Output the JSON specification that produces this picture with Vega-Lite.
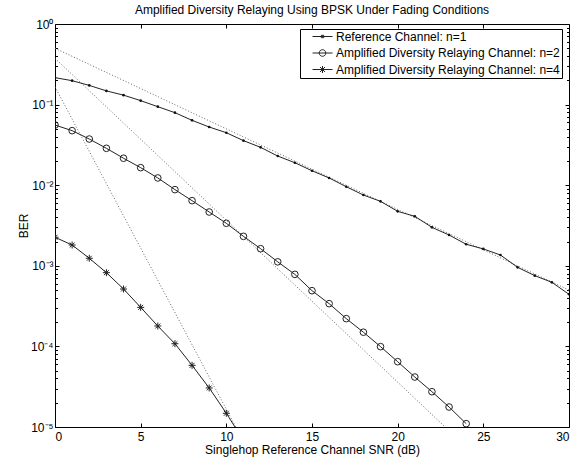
{
  "$schema": "https://vega.github.io/schema/vega-lite/v6.json",
  "width": 514,
  "height": 403,
  "autosize": {"type": "none"},
  "padding": {"left": 55, "top": 24, "right": 18, "bottom": 38},
  "background": "white",
  "title": {"text": "Amplified Diversity Relaying Using BPSK Under Fading Conditions", "font": "Liberation Sans", "fontSize": 12, "fontWeight": "normal", "color": "black", "anchor": "middle", "offset": 1},
  "config": {
    "view": {"stroke": "black", "strokeWidth": 1},
    "axis": {"grid": false, "domainColor": "black", "tickColor": "black", "labelColor": "black", "labelFont": "Liberation Sans", "labelFontSize": 12, "titleFont": "Liberation Sans", "titleFontSize": 12, "titleFontWeight": "normal", "titleColor": "black"}
  },
  "datasets": {
    "asym": [
      {"line": "d1", "snr": 0, "ber": 0.5}, {"line": "d1", "snr": 30, "ber": 0.0005},
      {"line": "d2", "snr": 0, "ber": 0.375}, {"line": "d2", "snr": 22.77, "ber": 0.00001},
      {"line": "d4", "snr": 0, "ber": 0.166}, {"line": "d4", "snr": 10.55, "ber": 0.00001}
    ],
    "sim": [
      {"series": "Reference Channel: n=1", "snr": 0, "ber": 0.216},
      {"series": "Reference Channel: n=1", "snr": 1, "ber": 0.198},
      {"series": "Reference Channel: n=1", "snr": 2, "ber": 0.173},
      {"series": "Reference Channel: n=1", "snr": 3, "ber": 0.148},
      {"series": "Reference Channel: n=1", "snr": 4, "ber": 0.131},
      {"series": "Reference Channel: n=1", "snr": 5, "ber": 0.112},
      {"series": "Reference Channel: n=1", "snr": 6, "ber": 0.0942},
      {"series": "Reference Channel: n=1", "snr": 7, "ber": 0.0794},
      {"series": "Reference Channel: n=1", "snr": 8, "ber": 0.0638},
      {"series": "Reference Channel: n=1", "snr": 9, "ber": 0.0527},
      {"series": "Reference Channel: n=1", "snr": 10, "ber": 0.0448},
      {"series": "Reference Channel: n=1", "snr": 11, "ber": 0.0357},
      {"series": "Reference Channel: n=1", "snr": 12, "ber": 0.0295},
      {"series": "Reference Channel: n=1", "snr": 13, "ber": 0.0230},
      {"series": "Reference Channel: n=1", "snr": 14, "ber": 0.0190},
      {"series": "Reference Channel: n=1", "snr": 15, "ber": 0.0151},
      {"series": "Reference Channel: n=1", "snr": 16, "ber": 0.0123},
      {"series": "Reference Channel: n=1", "snr": 17, "ber": 0.00958},
      {"series": "Reference Channel: n=1", "snr": 18, "ber": 0.00755},
      {"series": "Reference Channel: n=1", "snr": 19, "ber": 0.00631},
      {"series": "Reference Channel: n=1", "snr": 20, "ber": 0.00474},
      {"series": "Reference Channel: n=1", "snr": 21, "ber": 0.00411},
      {"series": "Reference Channel: n=1", "snr": 22, "ber": 0.00300},
      {"series": "Reference Channel: n=1", "snr": 23, "ber": 0.00241},
      {"series": "Reference Channel: n=1", "snr": 24, "ber": 0.00185},
      {"series": "Reference Channel: n=1", "snr": 25, "ber": 0.00162},
      {"series": "Reference Channel: n=1", "snr": 26, "ber": 0.00136},
      {"series": "Reference Channel: n=1", "snr": 27, "ber": 0.000957},
      {"series": "Reference Channel: n=1", "snr": 28, "ber": 0.000755},
      {"series": "Reference Channel: n=1", "snr": 29, "ber": 0.000624},
      {"series": "Reference Channel: n=1", "snr": 30, "ber": 0.000443},
      {"series": "Amplified Diversity Relaying Channel: n=2", "snr": 0, "ber": 0.0558},
      {"series": "Amplified Diversity Relaying Channel: n=2", "snr": 1, "ber": 0.0475},
      {"series": "Amplified Diversity Relaying Channel: n=2", "snr": 2, "ber": 0.0374},
      {"series": "Amplified Diversity Relaying Channel: n=2", "snr": 3, "ber": 0.0287},
      {"series": "Amplified Diversity Relaying Channel: n=2", "snr": 4, "ber": 0.0216},
      {"series": "Amplified Diversity Relaying Channel: n=2", "snr": 5, "ber": 0.0165},
      {"series": "Amplified Diversity Relaying Channel: n=2", "snr": 6, "ber": 0.0123},
      {"series": "Amplified Diversity Relaying Channel: n=2", "snr": 7, "ber": 0.00881},
      {"series": "Amplified Diversity Relaying Channel: n=2", "snr": 8, "ber": 0.00643},
      {"series": "Amplified Diversity Relaying Channel: n=2", "snr": 9, "ber": 0.00465},
      {"series": "Amplified Diversity Relaying Channel: n=2", "snr": 10, "ber": 0.00337},
      {"series": "Amplified Diversity Relaying Channel: n=2", "snr": 11, "ber": 0.00232},
      {"series": "Amplified Diversity Relaying Channel: n=2", "snr": 12, "ber": 0.00163},
      {"series": "Amplified Diversity Relaying Channel: n=2", "snr": 13, "ber": 0.00112},
      {"series": "Amplified Diversity Relaying Channel: n=2", "snr": 14, "ber": 0.000783},
      {"series": "Amplified Diversity Relaying Channel: n=2", "snr": 15, "ber": 0.000491},
      {"series": "Amplified Diversity Relaying Channel: n=2", "snr": 16, "ber": 0.000339},
      {"series": "Amplified Diversity Relaying Channel: n=2", "snr": 17, "ber": 0.000221},
      {"series": "Amplified Diversity Relaying Channel: n=2", "snr": 18, "ber": 0.000150},
      {"series": "Amplified Diversity Relaying Channel: n=2", "snr": 19, "ber": 0.0000993},
      {"series": "Amplified Diversity Relaying Channel: n=2", "snr": 20, "ber": 0.0000646},
      {"series": "Amplified Diversity Relaying Channel: n=2", "snr": 21, "ber": 0.0000417},
      {"series": "Amplified Diversity Relaying Channel: n=2", "snr": 22, "ber": 0.0000274},
      {"series": "Amplified Diversity Relaying Channel: n=2", "snr": 23, "ber": 0.0000177},
      {"series": "Amplified Diversity Relaying Channel: n=2", "snr": 24, "ber": 0.0000110},
      {"series": "Amplified Diversity Relaying Channel: n=4", "snr": 0, "ber": 0.00226},
      {"series": "Amplified Diversity Relaying Channel: n=4", "snr": 1, "ber": 0.00181},
      {"series": "Amplified Diversity Relaying Channel: n=4", "snr": 2, "ber": 0.00124},
      {"series": "Amplified Diversity Relaying Channel: n=4", "snr": 3, "ber": 0.000822},
      {"series": "Amplified Diversity Relaying Channel: n=4", "snr": 4, "ber": 0.000515},
      {"series": "Amplified Diversity Relaying Channel: n=4", "snr": 5, "ber": 0.000305},
      {"series": "Amplified Diversity Relaying Channel: n=4", "snr": 6, "ber": 0.000179},
      {"series": "Amplified Diversity Relaying Channel: n=4", "snr": 7, "ber": 0.000108},
      {"series": "Amplified Diversity Relaying Channel: n=4", "snr": 8, "ber": 0.0000582},
      {"series": "Amplified Diversity Relaying Channel: n=4", "snr": 9, "ber": 0.0000305},
      {"series": "Amplified Diversity Relaying Channel: n=4", "snr": 10, "ber": 0.0000148},
      {"series": "Amplified Diversity Relaying Channel: n=4", "snr": 11, "ber": 0.0000068}
    ]
  },
  "layer": [
    {
      "data": {"name": "asym"},
      "mark": {"type": "line", "clip": true, "color": "#666666", "strokeWidth": 1, "strokeDash": [1, 2]},
      "encoding": {
        "x": {"field": "snr", "type": "quantitative", "scale": {"domain": [0, 30], "nice": false, "zero": false},
          "axis": {"orient": "bottom", "values": [0, 5, 10, 15, 20, 25, 30], "tickSize": -4, "labelPadding": 8, "domain": false, "title": "Singlehop Reference Channel SNR (dB)", "titlePadding": 2}},
        "y": {"field": "ber", "type": "quantitative", "scale": {"type": "log", "domain": [0.00001, 1], "nice": false},
          "axis": {"orient": "left", "values": [0.00001, 0.0001, 0.001, 0.01, 0.1, 1], "tickSize": -4, "labelPadding": 6, "domain": false, "title": "BER", "titlePadding": 0,
            "labelExpr": "datum.value > 0.5 ? '10⁰' : datum.value > 0.05 ? '10⁻¹' : datum.value > 0.005 ? '10⁻²' : datum.value > 0.0005 ? '10⁻³' : datum.value > 0.00005 ? '10⁻⁴' : '10⁻⁵'"}},
        "detail": {"field": "line"}
      }
    },
    {
      "data": {"name": "sim"},
      "mark": {"type": "line", "clip": true, "color": "#222222", "strokeWidth": 1},
      "encoding": {
        "x": {"field": "snr", "type": "quantitative", "scale": {"domain": [0, 30], "nice": false, "zero": false},
          "axis": {"orient": "top", "values": [5, 10, 15, 20, 25], "tickSize": -4, "labels": false, "domain": false, "title": null}},
        "y": {"field": "ber", "type": "quantitative", "scale": {"type": "log", "domain": [0.00001, 1], "nice": false},
          "axis": {"orient": "left", "values": [0.00002, 0.00003, 0.00004, 0.00005, 0.00006, 0.00007, 0.00008, 0.00009, 0.0002, 0.0003, 0.0004, 0.0005, 0.0006, 0.0007, 0.0008, 0.0009, 0.002, 0.003, 0.004, 0.005, 0.006, 0.007, 0.008, 0.009, 0.02, 0.03, 0.04, 0.05, 0.06, 0.07, 0.08, 0.09, 0.2, 0.3, 0.4, 0.5, 0.6, 0.7, 0.8, 0.9], "tickSize": -2.5, "labels": false, "domain": false, "title": null}},
        "detail": {"field": "series"}
      }
    },
    {
      "data": {"name": "sim"},
      "transform": [{"filter": "datum.series === 'Reference Channel: n=1'"}],
      "mark": {"type": "point", "clip": true, "shape": "circle", "filled": true, "size": 7, "color": "#111111", "opacity": 1},
      "encoding": {
        "x": {"field": "snr", "type": "quantitative", "scale": {"domain": [0, 30], "nice": false, "zero": false}, "axis": null},
        "y": {"field": "ber", "type": "quantitative", "scale": {"type": "log", "domain": [0.00001, 1], "nice": false},
          "axis": {"orient": "right", "values": [0.00001, 0.0001, 0.001, 0.01, 0.1, 1], "tickSize": -4, "labels": false, "domain": false, "title": null}}
      }
    },
    {
      "data": {"name": "sim"},
      "transform": [{"filter": "datum.series === 'Amplified Diversity Relaying Channel: n=2'"}],
      "mark": {"type": "point", "clip": true, "shape": "circle", "filled": false, "size": 44, "color": "#222222", "strokeWidth": 1, "opacity": 1},
      "encoding": {
        "x": {"field": "snr", "type": "quantitative", "scale": {"domain": [0, 30], "nice": false, "zero": false}, "axis": null},
        "y": {"field": "ber", "type": "quantitative", "scale": {"type": "log", "domain": [0.00001, 1], "nice": false},
          "axis": {"orient": "right", "values": [0.00002, 0.00003, 0.00004, 0.00005, 0.00006, 0.00007, 0.00008, 0.00009, 0.0002, 0.0003, 0.0004, 0.0005, 0.0006, 0.0007, 0.0008, 0.0009, 0.002, 0.003, 0.004, 0.005, 0.006, 0.007, 0.008, 0.009, 0.02, 0.03, 0.04, 0.05, 0.06, 0.07, 0.08, 0.09, 0.2, 0.3, 0.4, 0.5, 0.6, 0.7, 0.8, 0.9], "tickSize": -2.5, "labels": false, "domain": false, "title": null}}
      }
    },
    {
      "data": {"name": "sim"},
      "transform": [{"filter": "datum.series === 'Amplified Diversity Relaying Channel: n=4'"}],
      "mark": {"type": "point", "clip": true, "shape": "M-1,0H1M0,-1V1M-0.7,-0.7L0.7,0.7M-0.7,0.7L0.7,-0.7", "filled": false, "size": 49, "color": "#222222", "strokeWidth": 1, "opacity": 1},
      "encoding": {
        "x": {"field": "snr", "type": "quantitative", "scale": {"domain": [0, 30], "nice": false, "zero": false}, "axis": null},
        "y": {"field": "ber", "type": "quantitative", "scale": {"type": "log", "domain": [0.00001, 1], "nice": false}, "axis": null}
      }
    },
    {
      "data": {"name": "sim"},
      "transform": [{"filter": "false"}],
      "mark": {"type": "point", "filled": false, "color": "#222222", "strokeWidth": 1, "opacity": 1},
      "encoding": {
        "shape": {"field": "series", "type": "nominal",
          "scale": {"domain": ["Reference Channel: n=1", "Amplified Diversity Relaying Channel: n=2", "Amplified Diversity Relaying Channel: n=4"],
            "range": ["M-1,0H1M-0.12,-0.12H0.12V0.12H-0.12Z", "M-1,0H1M0.33,0A0.33,0.33 0 1,1 -0.33,0A0.33,0.33 0 1,1 0.33,0", "M-1,0H1M-0.35,0H0.35M0,-0.35V0.35M-0.25,-0.25L0.25,0.25M-0.25,0.25L0.25,-0.25"]},
          "legend": {"orient": "none", "legendX": 245, "legendY": 5, "title": null, "strokeColor": "black", "fillColor": "white", "padding": 2,
            "labelFont": "Liberation Sans", "labelFontSize": 12, "labelColor": "black", "labelLimit": 400,
            "symbolSize": 400, "symbolStrokeColor": "#222222", "symbolStrokeWidth": 1, "symbolFillColor": "transparent", "symbolOpacity": 1,
            "clipHeight": 11, "rowPadding": 3.5, "symbolOffset": 10, "labelOffset": 3}}
      }
    }
  ],
  "resolve": {"axis": {"x": "independent", "y": "independent"}, "scale": {"shape": "independent"}, "legend": {"shape": "independent"}}
}
